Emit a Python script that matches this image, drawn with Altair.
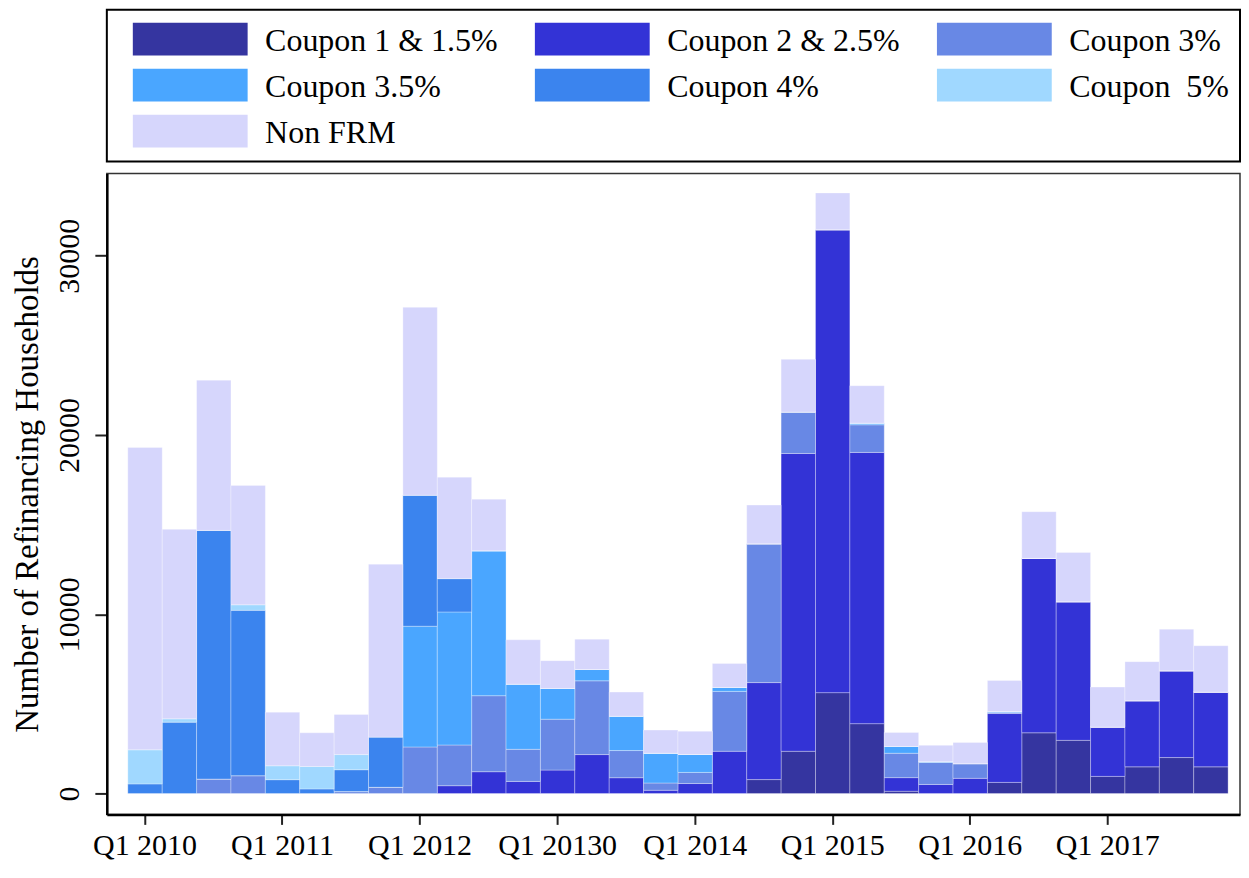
import altair as alt
import pandas as pd

FONT = "Liberation Serif"

quarters = ["2010Q1", "2010Q2", "2010Q3", "2010Q4", "2011Q1", "2011Q2", "2011Q3", "2011Q4",
            "2012Q1", "2012Q2", "2012Q3", "2012Q4", "2013Q1", "2013Q2", "2013Q3", "2013Q4",
            "2014Q1", "2014Q2", "2014Q3", "2014Q4", "2015Q1", "2015Q2", "2015Q3", "2015Q4",
            "2016Q1", "2016Q2", "2016Q3", "2016Q4", "2017Q1", "2017Q2", "2017Q3", "2017Q4"]

tick_quarters = ["2010Q1", "2011Q1", "2012Q1", "2013Q1", "2014Q1", "2015Q1", "2016Q1", "2017Q1"]
tick_labels = ["Q1 2010", "Q1 2011", "Q1 2012", "Q1 20130", "Q1 2014", "Q1 2015", "Q1 2016", "Q1 2017"]

names = ["Coupon 1 & 1.5%", "Coupon 2 & 2.5%", "Coupon 3%", "Coupon 3.5%",
         "Coupon 4%", "Coupon\u00a0\u00a05%", "Non FRM"]
colors = ["#3535A0", "#3333D6", "#6888E5", "#4AA6FF", "#3B84EE", "#A0D8FF", "#D6D6FC"]

coupon_1 = [0, 0, 0, 0, 0, 0, 0, 0, 0, 0, 0, 0, 0, 0, 0, 0,
            0, 0, 780, 2360, 5630, 3900, 130, 0, 0, 625, 3390, 2970, 960, 1490, 2010, 1490]
coupon_2 = [0, 0, 0, 0, 0, 0, 0, 0, 0, 440, 1220, 680, 1310, 2175, 885, 185,
            560, 2360, 5410, 16610, 25820, 15130, 760, 510, 850, 3840, 9730, 7730, 2750, 3690, 4840, 4170]
coupon_3 = [0, 0, 810, 1000, 0, 0, 110, 350, 2600, 2270, 4240, 1790, 2840, 4115, 1515, 405,
            620, 3340, 7740, 2310, 0, 1540, 1360, 1230, 820, 60, 0, 0, 0, 0, 0, 0]
coupon_35 = [0, 0, 0, 0, 0, 0, 0, 0, 6735, 7420, 8080, 3635, 1715, 630, 1915, 1660,
             1000, 220, 0, 0, 0, 90, 380, 40, 0, 60, 0, 0, 0, 0, 0, 0]
coupon_4 = [540, 3985, 13870, 9220, 775, 260, 1220, 2800, 7305, 1860, 0, 0, 0, 0, 0, 0,
            0, 0, 0, 0, 0, 0, 0, 0, 0, 0, 0, 0, 0, 0, 0, 0]
coupon_5 = [1900, 185, 0, 310, 775, 1250, 845, 0, 0, 0, 0, 0, 0, 0, 0, 0,
            0, 0, 0, 0, 0, 0, 0, 0, 0, 0, 0, 0, 0, 0, 0, 0]
non_frm = [16860, 10570, 8380, 6660, 2990, 1880, 2235, 9645, 10480, 5660, 2880, 2475, 1550, 1695, 1345, 1290,
           1295, 1340, 2160, 2940, 2050, 2090, 780, 910, 1180, 1720, 2600, 2750, 2230, 2180, 2320, 2590]

series = [coupon_1, coupon_2, coupon_3, coupon_35, coupon_4, coupon_5, non_frm]

rows = []
for k, (name, vals) in enumerate(zip(names, series)):
    for q, v in zip(quarters, vals):
        rows.append({"quarter": q, "coupon": name, "value": v, "order": k})
df = pd.DataFrame(rows)

color_scale = alt.Scale(domain=names, range=colors)

label_expr = "[" + ",".join(f"'{t}'" for t in tick_labels) + "][indexof([" + \
    ",".join(f"'{t}'" for t in tick_quarters) + "], datum.value)]"

bars = alt.Chart(df).mark_bar(stroke="white", strokeWidth=0.7, strokeOpacity=0.45).encode(
    x=alt.X("quarter:O", sort=quarters,
            scale=alt.Scale(paddingInner=0, paddingOuter=0.478, align=0.638),
            axis=alt.Axis(values=tick_quarters, labelExpr=label_expr, title=None, labelAngle=0,
                          labelFont=FONT, labelFontSize=30, labelColor="black", labelPadding=6,
                          tickSize=10, tickWidth=2, tickColor="#222",
                          domainColor="black", domainWidth=2.5)),
    y=alt.Y("value:Q", stack="zero",
            scale=alt.Scale(domain=[-1160, 34590], nice=False, zero=False),
            axis=alt.Axis(values=[0, 10000, 20000, 30000], format="d",
                          title="Number of Refinancing Households",
                          titleFont=FONT, titleFontSize=33, titleFontWeight="normal", titleColor="black",
                          titlePadding=10,
                          labelAngle=270, labelAlign="center", labelBaseline="bottom",
                          labelFont=FONT, labelFontSize=30, labelColor="black", labelPadding=10,
                          tickSize=12, tickWidth=2, tickColor="#222",
                          domainColor="black", domainWidth=2.5, grid=False)),
    color=alt.Color("coupon:N", scale=color_scale, legend=None),
    order=alt.Order("order:Q", sort="ascending"),
).properties(width=1135, height=642,
             view=alt.ViewBackground(stroke="#333", strokeWidth=1.5))

leg_base = alt.Chart(pd.DataFrame({"coupon": names})).transform_window(
    i="row_number()"
).transform_calculate(
    col="(datum.i - 1) % 3", row="floor((datum.i - 1) / 3)"
)
lx = alt.X("col:Q", scale=alt.Scale(domain=[-0.2074, 2.611], nice=False, zero=False), axis=None)
ly = alt.Y("row:Q", scale=alt.Scale(domain=[-0.64, 2.66], nice=False, zero=False, reverse=True), axis=None)

swatches = leg_base.mark_point(shape="M-1,-0.285H1V0.285H-1Z", size=13225, filled=True,
                               opacity=1, strokeWidth=0).encode(
    x=lx, y=ly, color=alt.Color("coupon:N", scale=color_scale, legend=None))
texts = leg_base.mark_text(align="left", baseline="middle", dx=75, dy=2, font=FONT,
                           fontSize=32, color="black").encode(x=lx, y=ly, text="coupon:N")

legend = alt.layer(swatches, texts).properties(
    width=1135, height=152, view=alt.ViewBackground(stroke="black", strokeWidth=2))

chart = alt.vconcat(legend, bars, spacing=10).resolve_scale(
    x="independent", y="independent"
).properties(padding={"left": 3, "top": 0, "right": 0, "bottom": 0}).configure_view(stroke=None)

chart.save("out.html", embed_options={"renderer": "svg", "actions": False})
